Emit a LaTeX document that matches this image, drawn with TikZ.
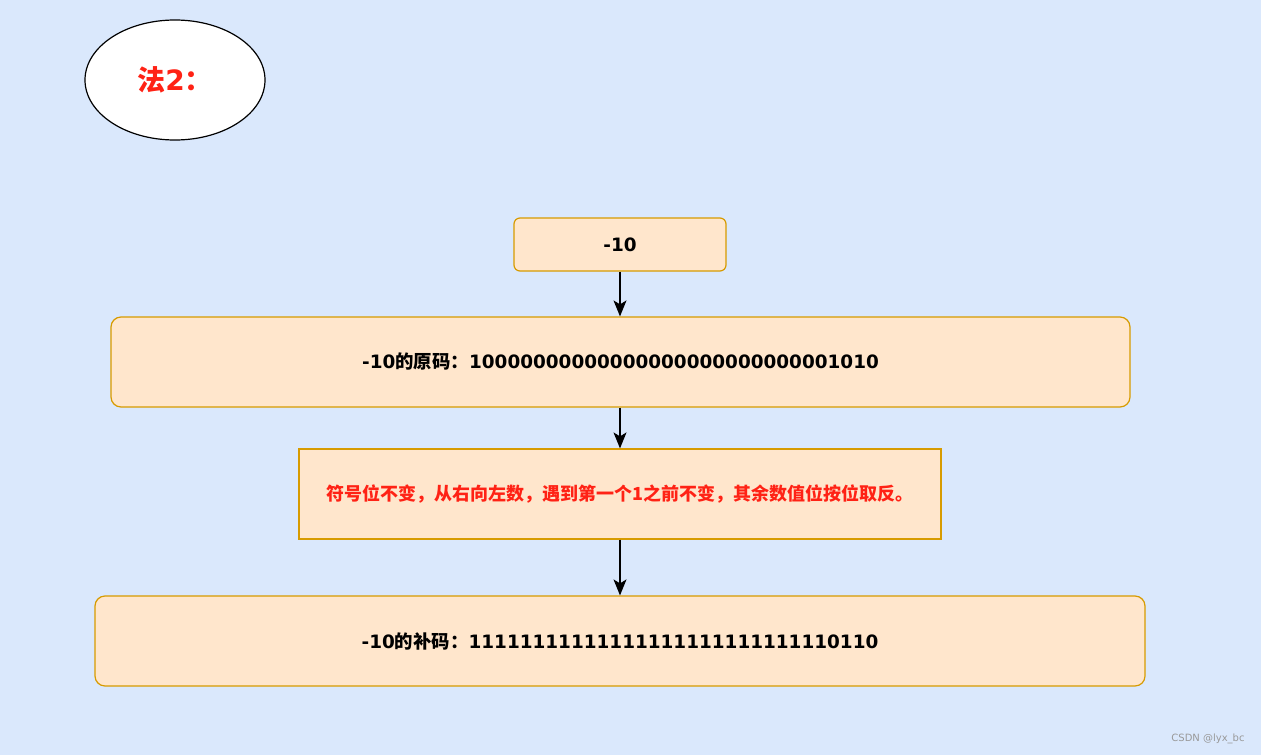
\documentclass[tikz,border=0pt]{standalone}
\usepackage{fontspec}
\setmainfont{DejaVu Sans}
\newfontfamily\cjk{Noto Sans CJK SC}
\usetikzlibrary{arrows.meta,shapes.geometric}
\definecolor{bgblue}{HTML}{DAE8FC}
\definecolor{boxfill}{HTML}{FFE6CC}
\definecolor{boxline}{HTML}{D79B00}
\definecolor{notered}{HTML}{FF2215}
\tikzset{
  stepbox/.style={draw=boxline, fill=boxfill, line width=1.2pt, inner sep=0pt,
    font=\fontsize{18.4}{22}\selectfont\bfseries},
  roundbox/.style={stepbox, rounded corners=10pt},
  flow/.style={-{Stealth[length=16pt,width=13pt,inset=4pt]}, line width=1.3pt}
}
\begin{document}
\begin{tikzpicture}[x=1pt,y=-1pt]
  \fill[bgblue] (0,0) rectangle (1261,755);
  \useasboundingbox (0,0) rectangle (1261,755);
  % title
  \node[draw, fill=white, ellipse, line width=1.2pt, minimum width=180pt, minimum height=120pt,
    inner sep=0pt, text=notered, font=\fontsize{28}{32}\selectfont\bfseries]
    (title) at (175,80) {\cjk 法\normalfont\bfseries 2\cjk ：};
  % boxes
  \node[roundbox, rounded corners=6pt, minimum width=212pt, minimum height=53pt]
    (num) at (620,244.5) {-10};
  \node[roundbox, minimum width=1019pt, minimum height=90pt]
    (yuan) at (620.5,362) {-10{\cjk 的原码：}10000000000000000000000000001010};
  \node[stepbox, minimum width=642pt, minimum height=90pt, text=notered,
    font=\fontsize{18}{22}\selectfont\bfseries]
    (rule) at (620,494) {\cjk 符号位不变，从右向左数，遇到第一个1之前不变，其余数值位按位取反。};
  \node[roundbox, minimum width=1050pt, minimum height=90pt]
    (bu) at (620,641) {-10{\cjk 的补码：}11111111111111111111111111110110};
  % arrows
  \draw[flow] (num.south) -- (num.south |- yuan.north);
  \draw[flow] (yuan.south -| rule.north) -- (rule.north);
  \draw[flow] (rule.south) -- (bu.north);
  \node[text=gray!80, font=\fontsize{10}{12}\selectfont] (mark) at (1208,739) {CSDN @lyx\_bc};
\end{tikzpicture}
\end{document}
